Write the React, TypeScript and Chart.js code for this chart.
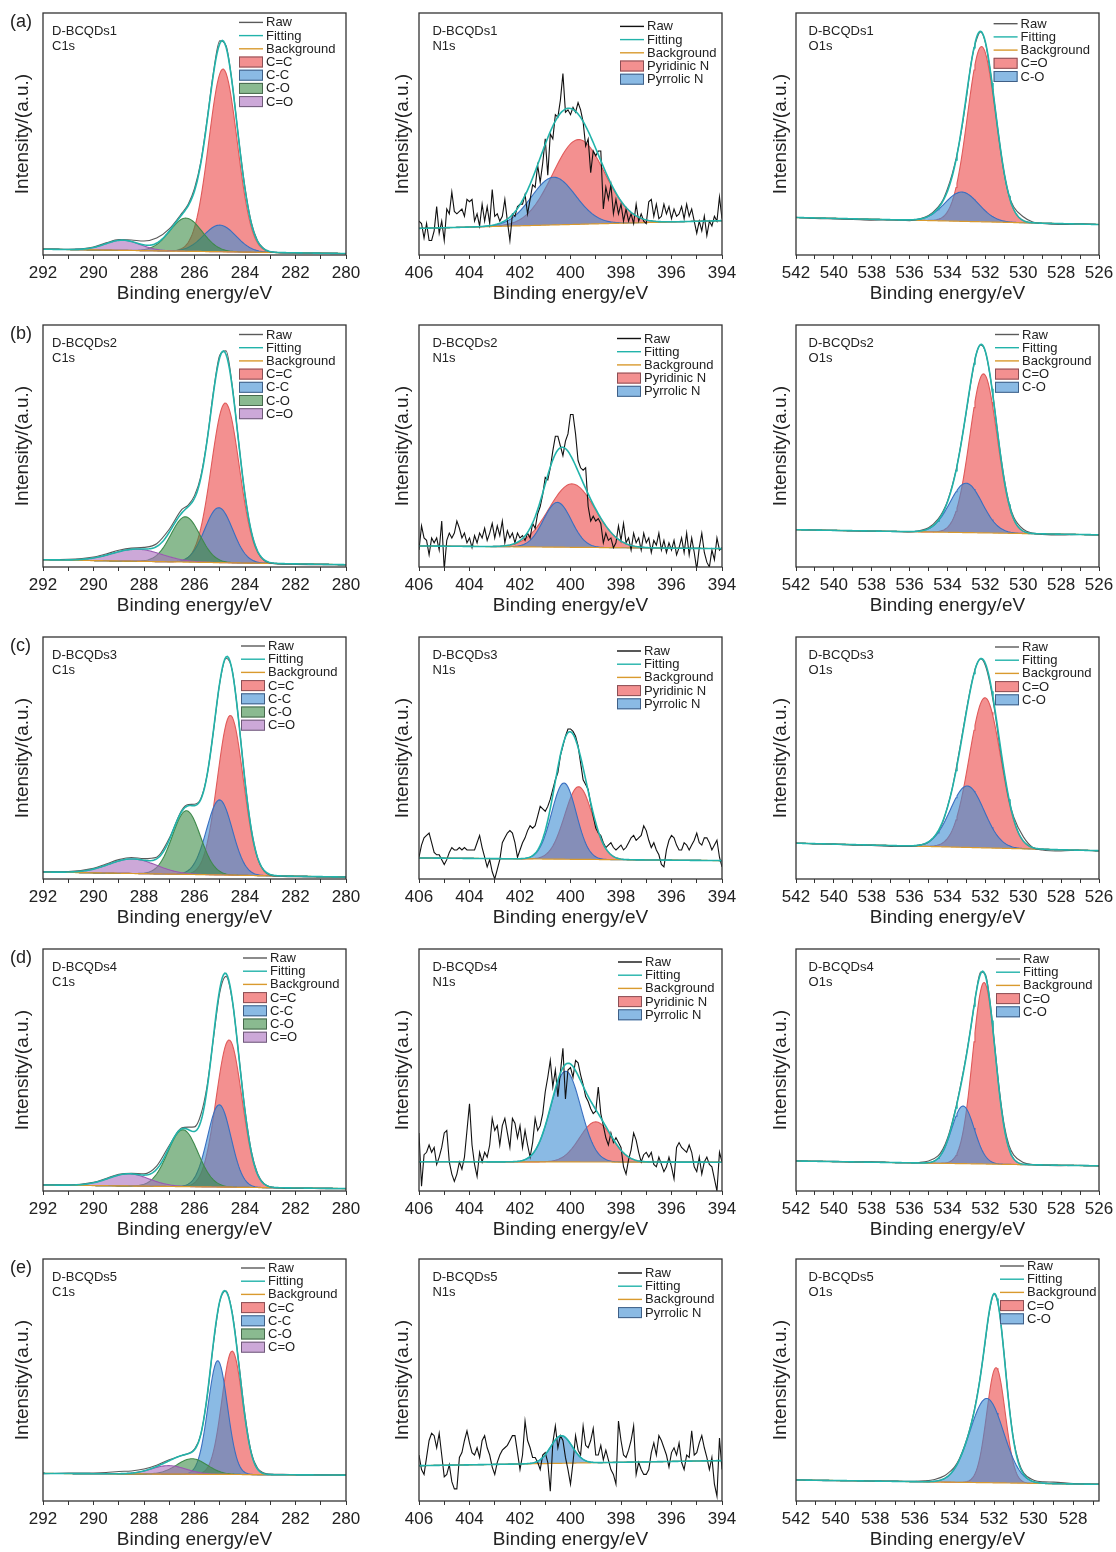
import { useEffect, useRef } from 'react';
import { Chart, registerables } from 'chart.js';

Chart.register(...registerables);

const FONT = '"Liberation Sans", Arial, Helvetica, sans-serif';
Chart.defaults.font.family = FONT;

// ---------- samples and panel labels ----------
const sampleNames = ['D-BCQDs1', 'D-BCQDs2', 'D-BCQDs3', 'D-BCQDs4', 'D-BCQDs5'];
const rowLetters = ['(a)', '(b)', '(c)', '(d)', '(e)'];
const coreLevels = ['C1s', 'N1s', 'O1s'];

// ---------- binding-energy windows (eV) ----------
const c1sRange = [280, 292];
const n1sRange = [394, 406];
const o1sMax = 542;
const o1sMin = [526, 526, 526, 526, 526.7];

// ---------- C1s ----------
const c1sComponentNames = ['C=C', 'C-C', 'C-O', 'C=O'];
const c1sCenters = [
  [284.87, 285.0, 286.34, 288.85],
  [284.78, 285.04, 286.36, 288.28],
  [284.58, 285.01, 286.32, 288.46],
  [284.63, 285.02, 286.46, 288.61],
  [284.51, 285.08, 286.1, 287.02],
];
const c1sHeights = [
  [75.5, 11, 13.7, 4.2],
  [66, 22.7, 18.7, 5.0],
  [66, 31, 26.3, 6],
  [60.8, 34, 23.5, 5.0],
  [51, 47, 6.4, 3.5],
];
const c1sFwhm = [
  [1.32, 1.5, 1.5, 1.6],
  [1.3, 1.3, 1.35, 2.3],
  [1.2, 1.2, 1.3, 2.2],
  [1.2, 1.1, 1.4, 1.9],
  [0.95, 0.9, 1.4, 1.6],
];
// background level at the high-BE end and at the low-BE end
const c1sBackground = [[2.4, 0.6], [3.0, 0.95], [2.9, 0.8], [2.5, 1.0], [11.4, 10.7]];
const c1sEnergies = [292, 291, 290, 289.5, 289, 288.5, 288, 287.5, 287, 286.5, 286.25, 286, 285.75, 285.5, 285.25, 285, 284.75, 284.5, 284.25, 284, 283.75, 283.5, 283.25, 283, 282.5, 282, 281, 280];
const c1sRaw1 = [2.5, 2.4, 3.3, 5.0, 6.4, 6.2, 5.8, 7.0, 10.8, 17.3, 21.0, 27.5, 38.5, 56.0, 75.5, 88.5, 86.5, 70.5, 48.0, 28.0, 13.5, 5.8, 2.6, 1.3, 0.9, 0.8, 0.7, 0.6];
const c1sRaw2 = [3.1, 3.2, 4.1, 5.4, 6.9, 7.8, 8.1, 9.6, 15.6, 23.8, 25.6, 29.5, 37.5, 52.5, 72.5, 87.5, 89.3, 74.5, 51.5, 29.8, 14.5, 6.3, 2.8, 1.6, 1.2, 1.1, 1.0, 1.0];
const c1sRaw3 = [3.0, 3.1, 4.4, 6.2, 8.0, 8.9, 8.4, 9.0, 16.8, 28.5, 30.8, 30.9, 33.2, 43.0, 61.0, 81.0, 91.2, 86.0, 65.5, 40.5, 20.6, 8.6, 3.3, 1.6, 1.1, 0.95, 0.85, 0.8];
const c1sRaw4 = [2.6, 2.5, 3.6, 5.2, 6.9, 7.3, 7.1, 10.3, 18.8, 26.1, 26.4, 26.5, 31.5, 43.5, 63.0, 82.0, 88.7, 78.5, 56.5, 33.5, 16.5, 7.2, 3.0, 1.7, 1.2, 1.05, 1.0, 0.95];
const c1sRaw5 = [11.3, 11.5, 11.6, 11.8, 12.2, 12.4, 13.2, 14.8, 17.0, 18.8, 19.6, 21.5, 27.5, 43.0, 65.0, 82.5, 86.8, 77.5, 57.5, 35.5, 20.0, 13.5, 11.6, 11.1, 11.0, 10.9, 10.8, 10.7];

// ---------- N1s ----------
const n1sComponentNames = ['Pyridinic N', 'Pyrrolic N'];
const n1sCenters = [
  [399.68, 400.67],
  [399.94, 400.52],
  [399.68, 400.26],
  [399.0, 400.19],
  [null, 400.36],
];
const n1sHeights = [
  [35, 19.7],
  [26.2, 18.5],
  [30, 31.5],
  [16.6, 37.5],
  [null, 11.4],
];
const n1sFwhm = [
  [2.4, 2.05],
  [2.15, 1.3],
  [1.3, 1.15],
  [1.5, 1.4],
  [null, 1.0],
];
const n1sBackground = [[11.0, 14.2], [8.7, 7.6], [8.7, 7.6], [12.1, 11.9], [14.6, 16.7]];
// raw N1s counts, 406.0 eV down to 394.0 eV in 0.1 eV steps
const n1sStartEnergy = 406;
const n1sEnergyStep = 0.1;
const n1sRaw1 = [14, 13, 7, 13, 6, 6, 10, 20, 9, 14, 6, 19, 17, 26, 18, 17, 18, 19, 16, 23, 22, 23, 14, 17, 12, 21, 14, 20, 13, 27, 16, 17, 14, 16, 23, 14, 6, 17, 16, 20, 21, 21, 25, 17, 23, 29, 28, 37, 30, 38, 48, 33, 50, 48, 58, 57, 64, 75, 59, 60, 58, 61, 59, 63, 60, 55, 45, 48, 34, 43, 41, 43, 43, 19, 28, 23, 29, 17, 23, 17, 21, 14, 19, 14, 17, 13, 21, 14, 17, 14, 13, 22, 23, 16, 21, 15, 16, 21, 17, 20, 15, 19, 16, 17, 20, 15, 21, 16, 19, 14, 9, 14, 10, 16, 8, 14, 12, 16, 14, 24, 15];
const n1sRaw2 = [7, 17, 12, 11, 5, 12, 10, 12, 7, 19, -1, 11, 14, 12, 14, 19, 16, 12, 14, 10, 12, 8, 13, 10, 14, 12, 16, 11, 14, 18, 12, 17, 13, 19, 10, 15, 12, 14, 10, 14, 12, 13, 11, 14, 12, 18, 16, 22, 25, 30, 37, 36, 41, 48, 54, 54, 50, 46, 52, 55, 63, 63, 55, 44, 41, 40, 41, 25, 19, 21, 19, 20, 18, 10, 14, 11, 12, 8, 10, 17, 11, 18, 10, 12, 7, 14, 10, 12, 7, 14, 10, 12, 6, 11, 9, 14, 7, 11, 6, 10, 7, 11, 5, 8, 12, 6, 14, 5, 12, 6, -1, 8, 14, 6, 2, 0, 7, 3, 12, 7, 8];
const n1sRaw3 = [9, 14, 17, 18, 19, 15, 11, 10, 10, 8, 6, 8, 11, 13, 12, 12, 13, 12, 13, 12, 12, 12, 12, 15, 18, 13, 9, 5, 8, 3, 0, 4, 8, 15, 17, 19, 20, 19, 15, 9, 12, 15, 17, 20, 22, 21, 22, 26, 30, 29, 28, 30, 33, 37, 41, 44, 51, 55, 59, 62, 62, 61, 59, 55, 48, 41, 39, 37, 31, 26, 21, 19, 18, 15, 13, 14, 15, 13, 12, 13, 14, 12, 13, 15, 17, 18, 16, 17, 18, 22, 20, 16, 13, 15, 12, 10, 6, 5, 12, 16, 18, 17, 14, 12, 12, 15, 14, 12, 14, 16, 19, 15, 14, 17, 17, 15, 12, 14, 16, 9, 5];
const n1sRaw4 = [24, 2, 15, 16, 19, 16, 18, 11, 14, 18, 24, 25, 12, 7, 4, 7, 12, 9, 14, 25, 36, 19, 11, 6, 16, 12, 16, 14, 19, 30, 25, 27, 19, 27, 30, 24, 18, 30, 28, 22, 27, 18, 25, 19, 14, 20, 30, 25, 27, 32, 41, 47, 54, 43, 50, 39, 49, 59, 38, 50, 51, 47, 54, 53, 48, 44, 39, 37, 34, 32, 33, 43, 32, 27, 22, 19, 24, 20, 22, 20, 18, 10, 7, 13, 17, 24, 21, 16, 12, 15, 16, 14, 16, 11, 10, 14, 11, 8, 10, 14, 10, 5, 18, 20, 18, 17, 16, 19, 16, 10, 8, 14, 7, 12, 14, 11, 10, 5, 0, 16, 12];
const n1sRaw5 = [19, 13, 11, 18, 25, 28, 27, 22, 28, 19, 10, 11, 15, 8, 5, 5, 18, 20, 25, 29, 24, 20, 19, 22, 18, 25, 27, 22, 19, 14, 11, 16, 19, 21, 22, 23, 25, 27, 27, 20, 13, 19, 33, 25, 22, 18, 18, 16, 13, 19, 20, 16, 4, 24, 31, 22, 27, 25, 18, 13, 7, 16, 27, 21, 19, 31, 23, 22, 25, 30, 19, 19, 23, 17, 21, 17, 13, 11, 7, 33, 25, 19, 18, 21, 25, 31, 11, 16, 13, 11, 11, 13, 20, 24, 19, 27, 25, 22, 19, 14, 20, 22, 19, 24, 16, 13, 19, 18, 29, 19, 20, 24, 27, 22, 18, 13, 18, 7, 2, 26, 13];

// ---------- O1s ----------
const o1sComponentNames = ['C=O', 'C-O'];
const o1sCenters = [
  [532.2, 533.25],
  [532.1, 533.02],
  [532.02, 532.96],
  [532.07, 533.18],
  [531.9, 532.37],
];
const o1sHeights = [
  [72.4, 12.1],
  [65.7, 20.4],
  [62, 25.4],
  [75, 23.8],
  [47.6, 34.8],
];
const o1sFwhm = [
  [1.75, 2.1],
  [1.7, 2.0],
  [1.95, 2.1],
  [1.4, 1.4],
  [1.1, 2.0],
];
const o1sBackground = [[15.5, 12.6], [15.4, 13.3], [14.8, 11.7], [12.4, 10.4], [8.7, 6.9]];
const o1sEnergies = [542, 541, 540, 539, 538, 537, 536, 535.5, 535, 534.5, 534.25, 534, 533.75, 533.5, 533.25, 533, 532.75, 532.5, 532.25, 532, 531.75, 531.5, 531.25, 531, 530.75, 530.5, 530, 529.5, 529, 528, 527, 526];
const o1sRaw1 = [15.6, 15.1, 14.9, 14.7, 14.4, 14.5, 14.2, 14.9, 16.3, 19.8, 22.6, 27.4, 33.5, 41.5, 52.0, 65.0, 79.5, 88.2, 92.2, 87.8, 76.5, 61.5, 46.5, 33.5, 24.5, 19.8, 15.8, 13.6, 13.0, 12.6, 12.9, 12.6];
const o1sRaw2 = [15.5, 15.3, 15.1, 14.9, 14.8, 14.7, 14.5, 15.0, 16.2, 19.8, 22.8, 27.2, 33.6, 41.8, 52.5, 64.5, 77.0, 87.5, 91.8, 89.0, 79.0, 64.8, 49.5, 36.2, 26.5, 20.6, 15.6, 14.0, 13.5, 13.2, 13.4, 13.2];
const o1sRaw3 = [14.9, 14.5, 14.4, 14.0, 13.9, 13.5, 13.4, 14.0, 15.2, 19.5, 23.5, 29.8, 37.5, 47.5, 58.5, 69.8, 80.0, 87.8, 91.0, 88.2, 80.5, 69.0, 55.5, 43.0, 32.5, 25.5, 17.5, 13.0, 12.0, 11.6, 11.9, 11.6];
const o1sRaw4 = [12.5, 12.3, 12.3, 12.0, 12.1, 11.8, 11.7, 11.8, 12.4, 14.5, 17.2, 21.8, 28.5, 36.5, 46.0, 56.5, 68.5, 81.5, 90.5, 89.5, 78.0, 59.5, 41.0, 27.0, 18.8, 14.8, 11.8, 10.9, 10.7, 10.5, 10.6, 10.4];
const o1sRaw5 = [8.8, 8.5, 8.4, 8.4, 8.2, 8.2, 8.1, 8.3, 8.9, 10.4, 12.0, 14.0, 17.5, 22.5, 29.0, 37.5, 48.5, 62.5, 77.5, 85.5, 79.5, 61.5, 40.5, 24.8, 16.0, 11.5, 8.6, 7.9, 7.8, 7.2, 7.0, 6.9];

// ---------- styles ----------
const TEAL = '#22b3aa';
const ORANGE = '#d99a2e';
const COMPONENT_STYLE: Record<string, { fill: string; line: string; edge: string }> = {
  'C=C': { fill: 'rgba(236,85,85,0.65)', line: '#e05a5a', edge: '#8a4f55' },
  'Pyridinic N': { fill: 'rgba(236,85,85,0.65)', line: '#e05a5a', edge: '#8a4f55' },
  'C=O_O1s': { fill: 'rgba(236,85,85,0.65)', line: '#e05a5a', edge: '#8a4f55' },
  'C-C': { fill: 'rgba(60,140,210,0.6)', line: '#3a6fc0', edge: '#3f5f86' },
  'Pyrrolic N': { fill: 'rgba(60,140,210,0.6)', line: '#3a6fc0', edge: '#3f5f86' },
  'C-O_O1s': { fill: 'rgba(60,140,210,0.6)', line: '#3a6fc0', edge: '#3f5f86' },
  'C-O': { fill: 'rgba(60,140,70,0.6)', line: '#3f8a4c', edge: '#46684c' },
  'C=O': { fill: 'rgba(170,110,190,0.6)', line: '#9a5bb0', edge: '#6e5a78' },
};

// ---------- page layout ----------
const plotLefts = [43, 419, 796];
const rowTops = [13, 325, 637, 949, 1259];
const PLOT_W = 303;
const PLOT_H = 242;
const AXIS_W = 40;
const PAD_TOP = 10;
const PAD_RIGHT = 16;
const XAXIS_H = 58;
const CANVAS_W = AXIS_W + PLOT_W + PAD_RIGHT;
const CANVAS_H = PAD_TOP + PLOT_H + XAXIS_H;
const textOffsets = [9, 13.4, 12.6];
const yTitlePads = [8.6, 12, 12.9];
const legendOffsets = [
  [[196, 9.4], [201, 13.4], [197.6, 10.7]],
  [[196, 9.5], [198, 13.5], [199, 9.5]],
  [[198, 9], [198, 14], [199, 10]],
  [[200, 9], [199, 13], [200, 10]],
  [[198, 9], [199, 14], [204, 7]],
];

type Pt = { x: number; y: number };
interface Component { name: string; center: number; height: number; fwhm: number; style: { fill: string; line: string; edge: string } }
interface PanelSpec {
  key: string;
  row: number;
  col: number;
  min: number;
  max: number;
  bgHigh: number;
  bgLow: number;
  components: Component[];
  raw: Pt[];
  smoothRaw: boolean;
  rawColor: string;
}

const LN2x4 = 4 * Math.LN2;
// Gaussian line shape of a fitted component
function peakValue(e: number, c: Component) {
  const d = (e - c.center) / c.fwhm;
  return c.height * Math.exp(-LN2x4 * d * d);
}

function pairUp(energies: number[], values: number[]): Pt[] {
  return values.map((v, i) => ({ x: energies[i], y: v }));
}

const n1sEnergies = n1sRaw1.map((_, k) => Math.round((n1sStartEnergy - k * n1sEnergyStep) * 10) / 10);

const c1sRaws = [c1sRaw1, c1sRaw2, c1sRaw3, c1sRaw4, c1sRaw5];
const n1sRaws = [n1sRaw1, n1sRaw2, n1sRaw3, n1sRaw4, n1sRaw5];
const o1sRaws = [o1sRaw1, o1sRaw2, o1sRaw3, o1sRaw4, o1sRaw5];

function components(names: string[], centers: (number | null)[], heights: (number | null)[], fwhm: (number | null)[], styleSuffix: string): Component[] {
  const out: Component[] = [];
  names.forEach((name, i) => {
    if (centers[i] == null || heights[i] == null || fwhm[i] == null) return;
    out.push({
      name,
      center: centers[i] as number,
      height: heights[i] as number,
      fwhm: fwhm[i] as number,
      style: COMPONENT_STYLE[name + styleSuffix] || COMPONENT_STYLE[name],
    });
  });
  return out;
}

const PANELS: PanelSpec[] = [];
for (let r = 0; r < 5; r++) {
  PANELS.push({
    key: `c1s-${r}`, row: r, col: 0, min: c1sRange[0], max: c1sRange[1],
    bgHigh: c1sBackground[r][0], bgLow: c1sBackground[r][1],
    components: components(c1sComponentNames, c1sCenters[r], c1sHeights[r], c1sFwhm[r], ''),
    raw: pairUp(c1sEnergies, c1sRaws[r]), smoothRaw: true, rawColor: '#5a5a5a',
  });
  PANELS.push({
    key: `n1s-${r}`, row: r, col: 1, min: n1sRange[0], max: n1sRange[1],
    bgHigh: n1sBackground[r][0], bgLow: n1sBackground[r][1],
    components: components(n1sComponentNames, n1sCenters[r], n1sHeights[r], n1sFwhm[r], ''),
    raw: pairUp(n1sEnergies, n1sRaws[r]), smoothRaw: false, rawColor: '#111111',
  });
  PANELS.push({
    key: `o1s-${r}`, row: r, col: 2, min: o1sMin[r], max: o1sMax,
    bgHigh: o1sBackground[r][0], bgLow: o1sBackground[r][1],
    components: components(o1sComponentNames, o1sCenters[r], o1sHeights[r], o1sFwhm[r], '_O1s'),
    raw: pairUp(o1sEnergies, o1sRaws[r]), smoothRaw: true, rawColor: '#5a5a5a',
  });
}

// frame, sample caption, row letter and in-plot legend
const panelDecor = {
  id: 'panelDecor',
  afterDraw(chart: any, _args: any, opts: any) {
    const { ctx, chartArea: a } = chart;
    ctx.save();
    ctx.strokeStyle = '#333333';
    ctx.lineWidth = 1.3;
    ctx.strokeRect(a.left, a.top, a.right - a.left, a.bottom - a.top);

    ctx.fillStyle = '#222222';
    ctx.textBaseline = 'middle';
    ctx.textAlign = 'left';
    ctx.font = `13px ${FONT}`;
    ctx.fillText(opts.sample, a.left + opts.textDx, a.top + 18.4);
    ctx.fillText(opts.level, a.left + opts.textDx, a.top + 33.4);
    if (opts.letter) {
      ctx.font = `18px ${FONT}`;
      ctx.fillText(opts.letter, 7, a.top + 9.5);
    }

    const x0 = a.left + opts.legendDx;
    let y = a.top + opts.legendDy;
    ctx.font = `13px ${FONT}`;
    const ds = chart.data.datasets;
    const entries = [ds[1], ds[0], ds[2], ...ds.slice(3)];
    entries.forEach((d: any, i: number) => {
      if (i < 3) {
        ctx.strokeStyle = d.borderColor;
        ctx.lineWidth = 1.4;
        ctx.beginPath();
        ctx.moveTo(x0, y);
        ctx.lineTo(x0 + 24, y);
        ctx.stroke();
      } else {
        ctx.fillStyle = '#ffffff';
        ctx.fillRect(x0, y - 5.5, 24, 11);
        ctx.fillStyle = d.backgroundColor;
        ctx.fillRect(x0, y - 5.5, 24, 11);
        ctx.strokeStyle = d.legendEdge;
        ctx.lineWidth = 1;
        ctx.strokeRect(x0 + 0.5, y - 5, 23, 10);
      }
      ctx.fillStyle = '#222222';
      ctx.fillText(d.label, x0 + 27, y + 0.5);
      y += 13.2;
    });
    ctx.restore();
  },
};

function buildConfig(p: PanelSpec): any {
  const n = Math.round((p.max - p.min) / 0.05);
  const grid: number[] = [];
  for (let i = 0; i <= n; i++) grid.push(p.max - (i * (p.max - p.min)) / n);
  const bgAt = (e: number) => p.bgLow + ((p.bgHigh - p.bgLow) * (e - p.min)) / (p.max - p.min);

  const bgPts = grid.map((e) => ({ x: e, y: bgAt(e) }));
  const compPts = p.components.map((c) => grid.map((e) => ({ x: e, y: bgAt(e) + peakValue(e, c) })));
  const fitPts = grid.map((e) => ({
    x: e,
    y: bgAt(e) + p.components.reduce((s, c) => s + peakValue(e, c), 0),
  }));

  const datasets: any[] = [
    { label: 'Fitting', data: fitPts, borderColor: TEAL, borderWidth: 1.6, pointRadius: 0, fill: false, order: 0 },
    {
      label: 'Raw', data: p.raw, borderColor: p.rawColor, borderWidth: 1.1, pointRadius: 0, fill: false, order: 1,
      cubicInterpolationMode: p.smoothRaw ? 'monotone' : 'default',
    },
    { label: 'Background', data: bgPts, borderColor: ORANGE, borderWidth: 1.2, pointRadius: 0, fill: false, order: 2 },
    ...p.components.map((c, j) => ({
      label: c.name, data: compPts[j], borderColor: c.style.line, backgroundColor: c.style.fill,
      legendEdge: c.style.edge, borderWidth: 1.1, pointRadius: 0, fill: { target: 2 }, order: 20 - j,
    })),
  ];

  return {
    type: 'line',
    data: { datasets },
    options: {
      responsive: false,
      animation: false,
      devicePixelRatio: 1,
      events: [],
      layout: { padding: { left: 0, top: PAD_TOP, right: PAD_RIGHT, bottom: 0 } },
      plugins: {
        legend: { display: false },
        tooltip: { enabled: false },
        panelDecor: {
          sample: sampleNames[p.row],
          level: coreLevels[p.col],
          letter: p.col === 0 ? rowLetters[p.row] : '',
          textDx: textOffsets[p.col],
          legendDx: legendOffsets[p.row][p.col][0],
          legendDy: legendOffsets[p.row][p.col][1],
        },
      },
      scales: {
        x: {
          type: 'linear',
          reverse: true,
          min: p.min,
          max: p.max,
          afterFit: (s: any) => { s.height = XAXIS_H; s.paddingLeft = 0; s.paddingRight = 0; },
          ticks: {
            stepSize: 1,
            autoSkip: false,
            maxRotation: 0,
            includeBounds: false,
            padding: 4,
            color: '#222222',
            font: { size: 17, family: FONT },
            callback: (v: number) => (Number.isInteger(v) && v % 2 === 0 ? String(v) : ''),
          },
          grid: { display: true, drawOnChartArea: false, drawTicks: true, tickLength: 4, tickColor: '#333333', tickWidth: 1 },
          border: { display: false },
          title: {
            display: true, text: 'Binding energy/eV', color: '#222222',
            font: { size: 19, family: FONT }, padding: { top: 0, bottom: 7.6 },
          },
        },
        y: {
          min: 0,
          max: 100,
          afterFit: (s: any) => { s.width = AXIS_W; },
          ticks: { display: false },
          grid: { display: false },
          border: { display: false },
          title: {
            display: true, text: 'Intensity/(a.u.)', color: '#222222',
            font: { size: 19, family: FONT }, padding: { top: yTitlePads[p.col], bottom: 0 },
          },
        },
      },
    },
    plugins: [panelDecor],
  };
}

function Panel({ spec }: { spec: PanelSpec }) {
  const ref = useRef<HTMLCanvasElement>(null);
  useEffect(() => {
    if (!ref.current) return;
    const chart = new Chart(ref.current, buildConfig(spec));
    return () => chart.destroy();
  }, [spec]);
  const left = plotLefts[spec.col] - AXIS_W;
  const top = rowTops[spec.row] - PAD_TOP;
  return (
    <canvas
      ref={ref}
      width={CANVAS_W}
      height={CANVAS_H}
      style={{ position: 'absolute', left, top, width: CANVAS_W, height: CANVAS_H }}
    />
  );
}

export default function App() {
  useEffect(() => {
    document.body.style.margin = '0';
  }, []);
  return (
    <div style={{ position: 'relative', width: 1116, height: 1552, overflow: 'hidden', background: '#ffffff' }}>
      {PANELS.map((p) => (
        <Panel key={p.key} spec={p} />
      ))}
    </div>
  );
}
